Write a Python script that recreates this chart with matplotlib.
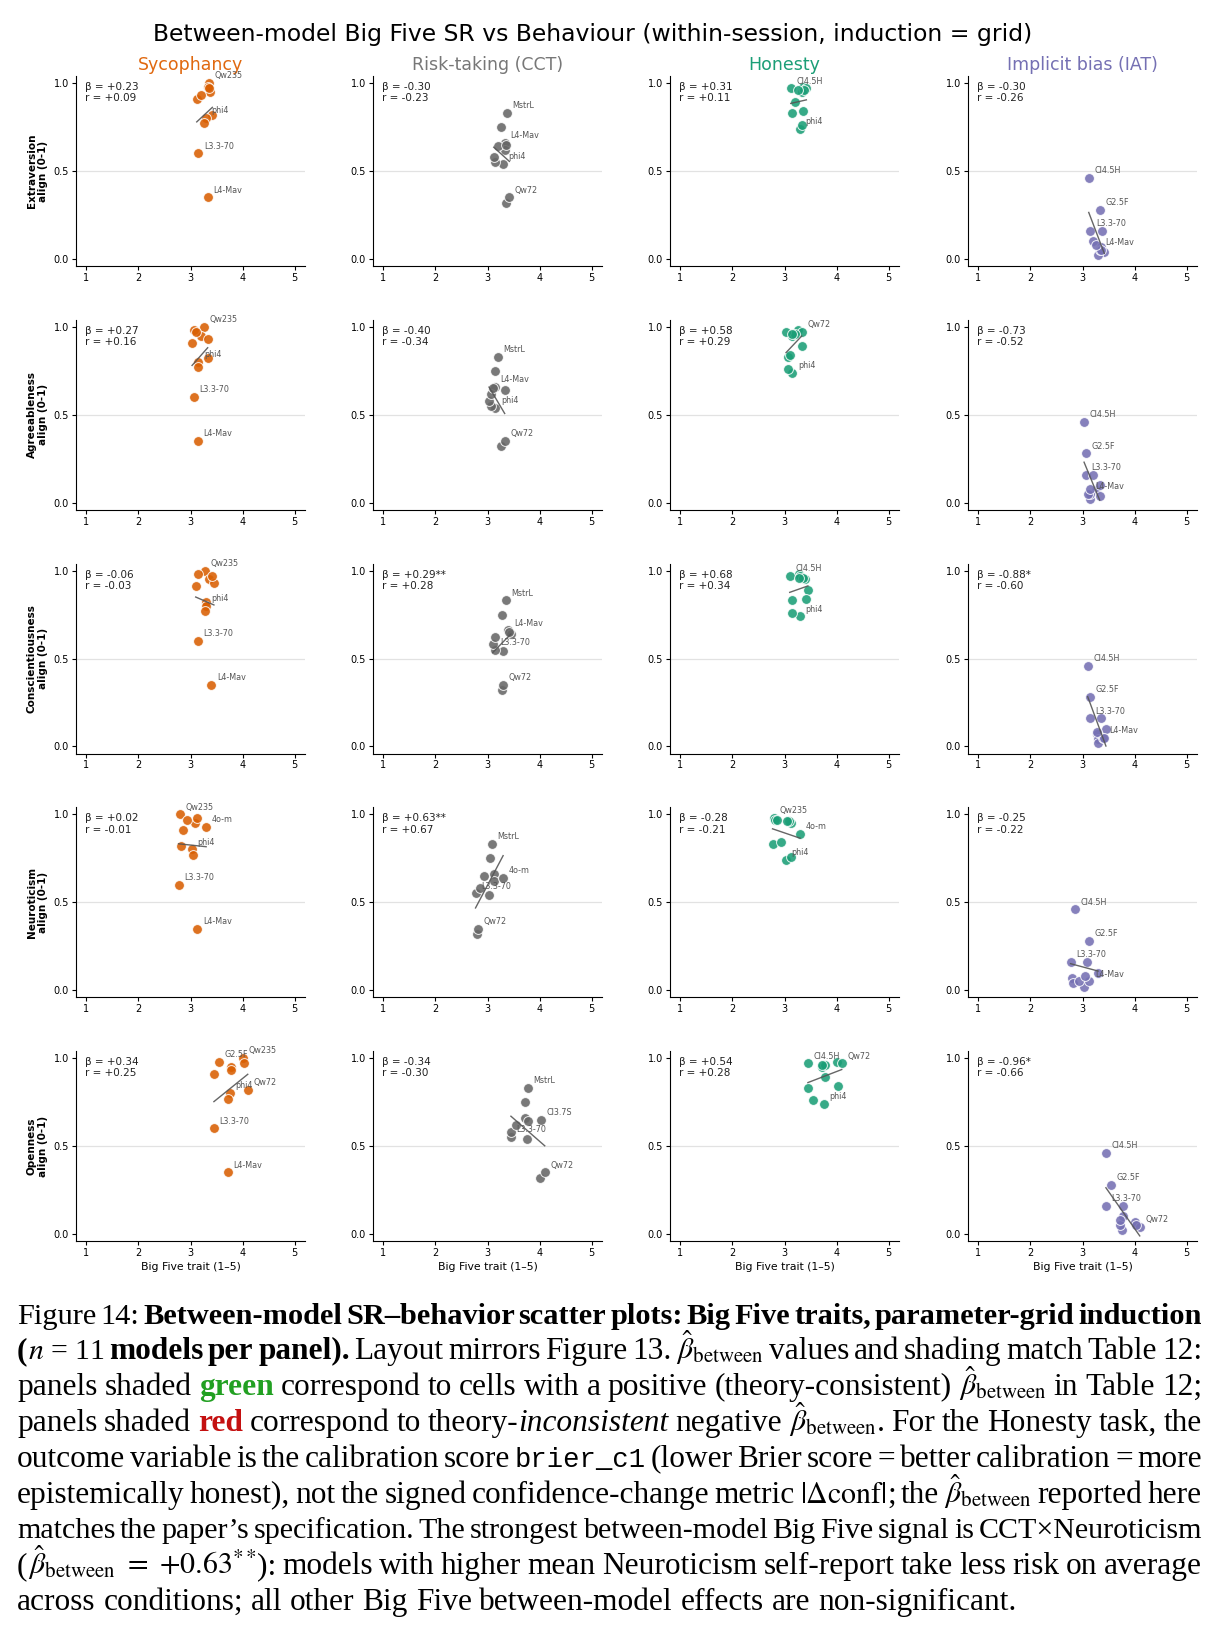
import matplotlib
matplotlib.use("Agg")
import matplotlib.pyplot as plt
from matplotlib.transforms import IdentityTransform
import numpy as np

# ---------------- data ----------------
models = ["Qw235", "Qw72", "phi4", "L3.3-70", "L4-Mav", "MstrL",
          "Cl4.5H", "G2.5F", "4o-m", "Cl3.7S", "DSV3"]

# Big Five self-report means (x)
extraversion      = [3.35, 3.42, 3.30, 3.15, 3.33, 3.37, 3.12, 3.33, 3.20, 3.35, 3.25]
agreeableness     = [3.25, 3.33, 3.15, 3.07, 3.14, 3.20, 3.03, 3.07, 3.33, 3.10, 3.14]
conscientiousness = [3.27, 3.30, 3.30, 3.14, 3.40, 3.35, 3.10, 3.14, 3.45, 3.42, 3.28]
neuroticism       = [2.80, 2.82, 3.02, 2.77, 3.13, 3.08, 2.86, 3.12, 3.30, 2.93, 3.04]
openness          = [4.00, 4.10, 3.75, 3.45, 3.72, 3.78, 3.45, 3.55, 3.78, 4.02, 3.72]

# Behaviour alignment (y)
sycophancy = [1.00, 0.82, 0.80, 0.60, 0.35, 0.95, 0.91, 0.98, 0.93, 0.97, 0.77]
risk_cct   = [0.32, 0.35, 0.54, 0.55, 0.66, 0.83, 0.58, 0.62, 0.64, 0.65, 0.75]
honesty    = [0.98, 0.97, 0.74, 0.83, 0.95, 0.96, 0.97, 0.76, 0.89, 0.84, 0.96]
iat        = [0.07, 0.04, 0.02, 0.16, 0.05, 0.16, 0.46, 0.28, 0.10, 0.05, 0.08]

trait_names = ["Extraversion", "Agreeableness", "Conscientiousness", "Neuroticism", "Openness"]
task_names = ["Sycophancy", "Risk-taking (CCT)", "Honesty", "Implicit bias (IAT)"]
trait_data = [extraversion, agreeableness, conscientiousness, neuroticism, openness]
task_data = [sycophancy, risk_cct, honesty, iat]

betas = [["+0.23", "-0.30", "+0.31", "-0.30"],
         ["+0.27", "-0.40", "+0.58", "-0.73"],
         ["-0.06", "+0.29**", "+0.68", "-0.88*"],
         ["+0.02", "+0.63**", "-0.28", "-0.25"],
         ["+0.34", "-0.34", "+0.54", "-0.96*"]]
rvals = [["+0.09", "-0.23", "+0.11", "-0.26"],
         ["+0.16", "-0.34", "+0.29", "-0.52"],
         ["-0.03", "+0.28", "+0.34", "-0.60"],
         ["-0.01", "+0.67", "-0.21", "-0.22"],
         ["+0.25", "-0.30", "+0.28", "-0.66"]]

label_sets = [
    [["Qw235", "phi4", "L3.3-70", "L4-Mav"], ["MstrL", "L4-Mav", "phi4", "Qw72"],
     ["Cl4.5H", "phi4"], ["Cl4.5H", "G2.5F", "L3.3-70", "L4-Mav"]],
    [["Qw235", "phi4", "L3.3-70", "L4-Mav"], ["MstrL", "L4-Mav", "phi4", "Qw72"],
     ["Qw72", "phi4"], ["Cl4.5H", "G2.5F", "L3.3-70", "L4-Mav"]],
    [["Qw235", "phi4", "L3.3-70", "L4-Mav"], ["MstrL", "L4-Mav", "L3.3-70", "Qw72"],
     ["Cl4.5H", "phi4"], ["Cl4.5H", "G2.5F", "L3.3-70", "L4-Mav"]],
    [["Qw235", "4o-m", "phi4", "L3.3-70", "L4-Mav"], ["MstrL", "4o-m", "L3.3-70", "Qw72"],
     ["Qw235", "4o-m", "phi4"], ["Cl4.5H", "G2.5F", "L3.3-70", "L4-Mav"]],
    [["G2.5F", "Qw235", "Qw72", "phi4", "L3.3-70", "L4-Mav"], ["MstrL", "Cl3.7S", "L3.3-70", "Qw72"],
     ["Cl4.5H", "Qw72", "phi4"], ["Cl4.5H", "G2.5F", "L3.3-70", "Qw72"]],
]

task_colors = ["#d95f02", "#666666", "#1b9e77", "#7570b3"]
title_colors = ["#e0680f", "#777777", "#1b9e77", "#7570b3"]

# ---------------- figure ----------------
W, H = 1224, 1635
fig = plt.figure(figsize=(W / 100, H / 100), dpi=100)
plt.rcParams["mathtext.fontset"] = "stix"

lefts = [76, 373, 670, 968]
aw, ah = 229, 190
tops = [76 + 243.75 * j for j in range(5)]

for j in range(5):
    for i in range(4):
        ax = fig.add_axes([lefts[i] / W, 1 - (tops[j] + ah) / H, aw / W, ah / H])
        x = np.array(trait_data[j], dtype=float)
        y = np.array(task_data[i], dtype=float)
        ax.axhline(0.5, color="#e2e2e2", lw=0.9, zorder=0)
        ax.scatter(x, y, s=50, color=task_colors[i], alpha=0.88,
                   edgecolors="white", linewidths=0.7, zorder=3)
        coef = np.polyfit(x, y, 1)
        xs = np.array([x.min(), x.max()])
        ax.plot(xs, np.polyval(coef, xs), color="#555555", lw=1.0, alpha=0.9, zorder=4)
        for name in label_sets[j][i]:
            k = models.index(name)
            ax.annotate(name, (x[k], y[k]), xytext=(4, 2), textcoords="offset points",
                        fontsize=5.8, color="#555555", ha="left", va="bottom", zorder=5)
        ax.text(0.04, 0.968, f"β = {betas[j][i]}\nr = {rvals[j][i]}",
                transform=ax.transAxes, va="top", ha="left", fontsize=7.5,
                color="#222222", linespacing=1.15)
        ax.set_xlim(0.8, 5.2)
        ax.set_ylim(-0.04, 1.04)
        ax.set_xticks([1, 2, 3, 4, 5])
        ax.set_yticks([0.0, 0.5, 1.0])
        ax.set_yticklabels(["0.0", "0.5", "1.0"])
        ax.tick_params(labelsize=7, length=3, width=0.8, pad=2)
        for s in ["top", "right"]:
            ax.spines[s].set_visible(False)
        for s in ["left", "bottom"]:
            ax.spines[s].set_linewidth(0.8)
        if j == 0:
            ax.set_title(task_names[i], color=title_colors[i], fontsize=12.5, pad=4)
        if i == 0:
            ax.set_ylabel(f"{trait_names[j]}\nalign (0-1)", fontsize=7.5,
                          fontweight="bold", labelpad=4)
        if j == 4:
            ax.set_xlabel("Big Five trait (1–5)", fontsize=7.8, labelpad=3)

fig.text(593 / W, 1 - 35 / H,
         "Between-model Big Five SR vs Behaviour (within-session, induction = grid)",
         ha="center", va="center", fontsize=16.9)

# ---------------- caption ----------------
CAP_FS = 22.6
serif = "Liberation Serif"
styles = {
    "n": dict(family=serif),
    "b": dict(family=serif, weight="bold"),
    "i": dict(family=serif, style="italic"),
    "g": dict(family=serif, weight="bold", color="#22a022"),
    "r": dict(family=serif, weight="bold", color="#c41010"),
    "m": dict(family="Liberation Mono"),
    "x": dict(family=serif),
}
size_factor = {"m": 0.87, "x": 0.95}
BH = r"$\hat{\beta}_{\mathrm{between}}$"
caption = [
    [("Figure 14: ", "n"),
     ("Between-model SR–behavior scatter plots: Big Five traits, parameter-grid induction", "b")],
    [("(", "b"), (r"$n$ = 11", "x"), (" models per panel).", "b"),
     (" Layout mirrors Figure 13. ", "n"), (BH, "x"), (" values and shading match Table 12:", "n")],
    [("panels shaded ", "n"), ("green", "g"),
     (" correspond to cells with a positive (theory-consistent) ", "n"), (BH, "x"),
     (" in Table 12;", "n")],
    [("panels shaded ", "n"), ("red", "r"), (" correspond to theory-", "n"),
     ("inconsistent", "i"), (" negative ", "n"), (BH, "x"),
     (".  For the Honesty task, the", "n")],
    [("outcome variable is the calibration score ", "n"), ("brier_c1", "m"),
     (" (lower Brier score = better calibration = more", "n")],
    [("epistemically honest), not the signed confidence-change metric ", "n"),
     (r"$|\Delta\mathrm{conf}|$", "x"), ("; the ", "n"), (BH, "x"), (" reported here", "n")],
    [("matches the paper’s specification. The strongest between-model Big Five signal is CCT×Neuroticism", "n")],
    [("(", "n"), (r"$\hat{\beta}_{\mathrm{between}}\ =\ {+}0.63^{**}$", "x"),
     ("): models with higher mean Neuroticism self-report take less risk on average", "n")],
    [("across conditions; all other Big Five between-model effects are non-significant.", "n")],
]


def tokenize(segs):
    toks = []
    space = False
    for text, st in segs:
        if st == "x":
            if text.startswith(" "):
                space = True
            toks.append([text.strip(), st, space and bool(toks)])
            space = text.endswith(" ")
            continue
        parts = text.split(" ")
        for k, p in enumerate(parts):
            if k > 0:
                space = True
            if p:
                toks.append([p, st, space and bool(toks)])
                space = False
    return toks


renderer = fig.canvas.get_renderer()
x0, x1 = 17, 1202
for li, segs in enumerate(caption):
    toks = tokenize(segs)
    ngaps = sum(1 for t in toks if t[2])
    fs = CAP_FS
    while True:
        arts, widths = [], []
        for t, st, sp in toks:
            a = fig.text(0, 0, t, fontsize=fs * size_factor.get(st, 1.0),
                         va="baseline", ha="left",
                         transform=IdentityTransform(), **styles[st])
            arts.append(a)
            widths.append(a.get_window_extent(renderer).width)
        space_w = 0.25 * fs * 100 / 72
        gap = (x1 - x0 - sum(widths)) / max(ngaps, 1)
        if gap >= 0.5 * space_w or fs < 16:
            break
        for a in arts:
            a.remove()
        fs -= 0.25
    if li == len(caption) - 1:
        gap = space_w
    xpos = x0
    ybase = H - (1323.5 + 35.8 * li)
    for a, w, t in zip(arts, widths, toks):
        if t[2]:
            xpos += gap
        a.set_position((xpos, ybase))
        xpos += w

fig.savefig("out.png", dpi=100)
